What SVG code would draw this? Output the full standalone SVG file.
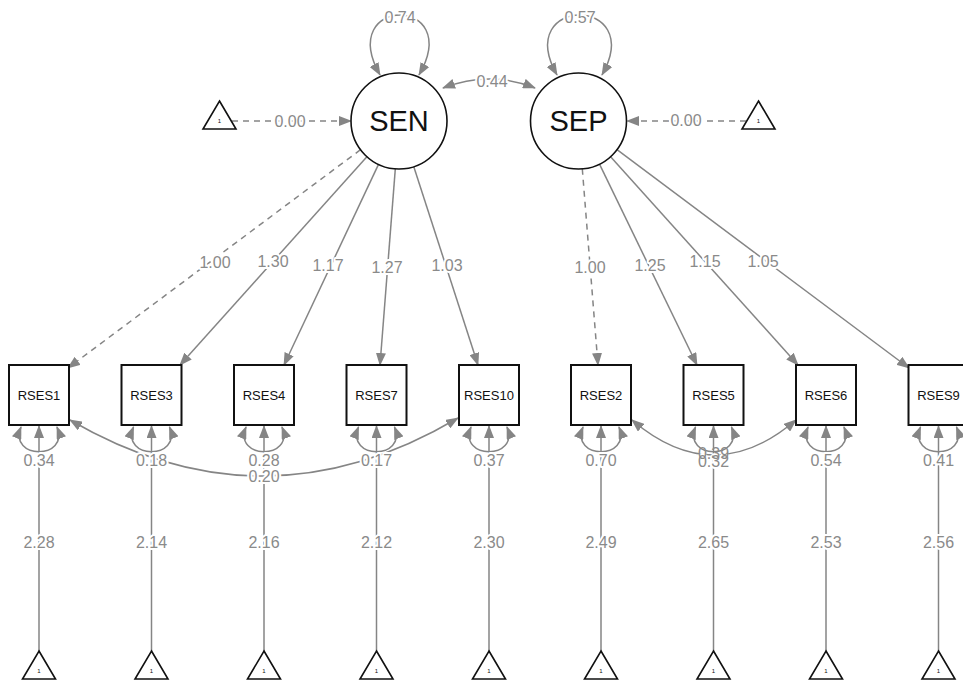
<svg xmlns="http://www.w3.org/2000/svg" width="963" height="680" viewBox="0 0 963 680">
  <style>
    .e { fill: none; stroke: #858585; stroke-width: 1.5; }
    .d { stroke-dasharray: 6 5; }
    .lbl { font-family: "Liberation Sans", Arial, sans-serif; font-size: 16px; fill: #8a8a8a; text-anchor: middle; stroke: #ffffff; stroke-width: 4; stroke-linejoin: round; paint-order: stroke; }
    .bare { stroke: none; }
    .box { fill: #ffffff; stroke: #111111; stroke-width: 2; }
    .lat { fill: #ffffff; stroke: #111111; stroke-width: 1.6; }
    .tri { fill: #ffffff; stroke: #111111; stroke-width: 1.6; }
    .bt { font-family: "Liberation Sans", Arial, sans-serif; font-size: 13px; fill: #111111; text-anchor: middle; }
    .lt { font-family: "Liberation Sans", Arial, sans-serif; font-size: 29px; fill: #111111; text-anchor: middle; }
    .one { font-family: "Liberation Sans", Arial, sans-serif; font-size: 6px; fill: #111111; text-anchor: middle; }
  </style>
  <defs>
    <marker id="ah" markerUnits="userSpaceOnUse" markerWidth="13" markerHeight="10" refX="12" refY="5" orient="auto-start-reverse" viewBox="0 0 13 10">
      <path d="M0,0 L13,5 L0,10 z" fill="#858585"/>
    </marker>
  </defs>

  <rect width="963" height="680" fill="#ffffff"/>

  <!-- connectors -->
  <g id="edges">
    <!-- latent variances and covariance -->
    <path class="e" d="M380,75 C335,-5 465,-5 419,75" marker-start="url(#ah)" marker-end="url(#ah)"/>
    <path class="e" d="M557,75 C512,-5 647,-5 602,75" marker-start="url(#ah)" marker-end="url(#ah)"/>
    <path class="e" d="M443,88 Q490,70 535,88" marker-start="url(#ah)" marker-end="url(#ah)"/>
    <!-- latent means -->
    <path class="e d" d="M232,121 L351,121" marker-end="url(#ah)"/>
    <path class="e d" d="M746,121 L627,121" marker-end="url(#ah)"/>
    <!-- loadings SEN -->
    <path class="e d" d="M360.5,149.7 L68,368" marker-end="url(#ah)"/>
    <path class="e" d="M366.9,156.7 L180,365" marker-end="url(#ah)"/>
    <path class="e" d="M378.5,164.4 L284,365" marker-end="url(#ah)"/>
    <path class="e" d="M395.3,168.9 L380,365" marker-end="url(#ah)"/>
    <path class="e" d="M413.8,166.7 L478,365" marker-end="url(#ah)"/>
    <!-- loadings SEP -->
    <path class="e d" d="M582.3,168.8 L598,365" marker-end="url(#ah)"/>
    <path class="e" d="M599.5,164.2 L697,365" marker-end="url(#ah)"/>
    <path class="e" d="M610.6,156.7 L798,365" marker-end="url(#ah)"/>
    <path class="e" d="M617,149.7 L909,368" marker-end="url(#ah)"/>
    <!-- intercepts -->
    <path class="e" d="M39,651 L39,426" marker-end="url(#ah)"/>
    <path class="e" d="M151.5,651 L151.5,426" marker-end="url(#ah)"/>
    <path class="e" d="M264,651 L264,426" marker-end="url(#ah)"/>
    <path class="e" d="M376.5,651 L376.5,426" marker-end="url(#ah)"/>
    <path class="e" d="M489,651 L489,426" marker-end="url(#ah)"/>
    <path class="e" d="M601,651 L601,426" marker-end="url(#ah)"/>
    <path class="e" d="M713.5,651 L713.5,426" marker-end="url(#ah)"/>
    <path class="e" d="M826,651 L826,426" marker-end="url(#ah)"/>
    <path class="e" d="M938.5,651 L938.5,426" marker-end="url(#ah)"/>
    <!-- residual variances -->
    <path class="e" d="M21,427 C8,460 70,460 57,427" marker-start="url(#ah)" marker-end="url(#ah)"/>
    <path class="e" d="M133.5,427 C120.5,460 182.5,460 169.5,427" marker-start="url(#ah)" marker-end="url(#ah)"/>
    <path class="e" d="M246,427 C233,460 295,460 282,427" marker-start="url(#ah)" marker-end="url(#ah)"/>
    <path class="e" d="M358.5,427 C345.5,460 407.5,460 394.5,427" marker-start="url(#ah)" marker-end="url(#ah)"/>
    <path class="e" d="M471,427 C458,460 520,460 507,427" marker-start="url(#ah)" marker-end="url(#ah)"/>
    <path class="e" d="M583,427 C570,460 632,460 619,427" marker-start="url(#ah)" marker-end="url(#ah)"/>
    <path class="e" d="M695.5,427 C682.5,460 744.5,460 731.5,427" marker-start="url(#ah)" marker-end="url(#ah)"/>
    <path class="e" d="M808,427 C795,460 857,460 844,427" marker-start="url(#ah)" marker-end="url(#ah)"/>
    <path class="e" d="M920.5,427 C907.5,460 969.5,460 956.5,427" marker-start="url(#ah)" marker-end="url(#ah)"/>
    <!-- residual covariances -->
    <path class="e" d="M70,420 Q264,533 458,418" marker-start="url(#ah)" marker-end="url(#ah)"/>
    <path class="e" d="M632,420 Q714,490 796,420" marker-start="url(#ah)" marker-end="url(#ah)"/>
  </g>

  <!-- edge labels -->
  <g id="labels">
    <text class="lbl" x="400" y="23">0.74</text>
    <text class="lbl" x="580" y="23">0.57</text>
    <text class="lbl" x="492" y="87">0.44</text>
    <text class="lbl" x="290" y="127">0.00</text>
    <text class="lbl" x="686" y="126">0.00</text>
    <text class="lbl" x="215" y="268">1.00</text>
    <text class="lbl" x="273" y="267">1.30</text>
    <text class="lbl" x="328" y="271">1.17</text>
    <text class="lbl" x="387" y="273">1.27</text>
    <text class="lbl" x="447" y="271">1.03</text>
    <text class="lbl" x="590" y="273">1.00</text>
    <text class="lbl" x="650" y="271">1.25</text>
    <text class="lbl" x="705" y="267">1.15</text>
    <text class="lbl" x="763" y="267">1.05</text>
    <text class="lbl" x="39" y="466">0.34</text>
    <text class="lbl" x="151.5" y="466">0.18</text>
    <text class="lbl" x="264" y="466">0.28</text>
    <text class="lbl" x="376.5" y="466">0.17</text>
    <text class="lbl" x="489" y="466">0.37</text>
    <text class="lbl" x="601" y="466">0.70</text>
    <text class="lbl" x="713.5" y="467">0.32</text>
    <text class="lbl" x="826" y="466">0.54</text>
    <text class="lbl" x="938.5" y="466">0.41</text>
    <text class="lbl" x="264" y="482">0.20</text>
    <text class="lbl bare" x="713.5" y="459">0.39</text>
    <text class="lbl" x="39" y="548">2.28</text>
    <text class="lbl" x="151.5" y="548">2.14</text>
    <text class="lbl" x="264" y="548">2.16</text>
    <text class="lbl" x="376.5" y="548">2.12</text>
    <text class="lbl" x="489" y="548">2.30</text>
    <text class="lbl" x="601" y="548">2.49</text>
    <text class="lbl" x="713.5" y="548">2.65</text>
    <text class="lbl" x="826" y="548">2.53</text>
    <text class="lbl" x="938.5" y="548">2.56</text>
  </g>

  <!-- latent variables -->
  <g id="SEN">
    <circle class="lat" cx="399" cy="121" r="48"/>
    <text class="lt" x="399" y="131">SEN</text>
  </g>
  <g id="SEP">
    <circle class="lat" cx="578.5" cy="121" r="48"/>
    <text class="lt" x="578.5" y="131">SEP</text>
  </g>

  <!-- constant (mean) triangles for the latents -->
  <g id="one_SEN">
    <polygon class="tri" points="219.5,101 236,129 203,129"/>
    <text class="one" x="219.5" y="123">1</text>
  </g>
  <g id="one_SEP">
    <polygon class="tri" points="758.5,101 775,129 742,129"/>
    <text class="one" x="758.5" y="123">1</text>
  </g>

  <!-- observed indicators -->
  <g id="RSES1"><rect class="box" x="9" y="365" width="60" height="60"/><text class="bt" x="39" y="400">RSES1</text></g>
  <g id="RSES3"><rect class="box" x="121.5" y="365" width="60" height="60"/><text class="bt" x="151.5" y="400">RSES3</text></g>
  <g id="RSES4"><rect class="box" x="234" y="365" width="60" height="60"/><text class="bt" x="264" y="400">RSES4</text></g>
  <g id="RSES7"><rect class="box" x="346.5" y="365" width="60" height="60"/><text class="bt" x="376.5" y="400">RSES7</text></g>
  <g id="RSES10"><rect class="box" x="459" y="365" width="60" height="60"/><text class="bt" x="489" y="400">RSES10</text></g>
  <g id="RSES2"><rect class="box" x="571" y="365" width="60" height="60"/><text class="bt" x="601" y="400">RSES2</text></g>
  <g id="RSES5"><rect class="box" x="683.5" y="365" width="60" height="60"/><text class="bt" x="713.5" y="400">RSES5</text></g>
  <g id="RSES6"><rect class="box" x="796" y="365" width="60" height="60"/><text class="bt" x="826" y="400">RSES6</text></g>
  <g id="RSES9"><rect class="box" x="908.5" y="365" width="60" height="60"/><text class="bt" x="938.5" y="400">RSES9</text></g>

  <!-- intercept triangles -->
  <g id="one_RSES1"><polygon class="tri" points="39,651 55.5,679 22.5,679"/><text class="one" x="39" y="673">1</text></g>
  <g id="one_RSES3"><polygon class="tri" points="151.5,651 168,679 135,679"/><text class="one" x="151.5" y="673">1</text></g>
  <g id="one_RSES4"><polygon class="tri" points="264,651 280.5,679 247.5,679"/><text class="one" x="264" y="673">1</text></g>
  <g id="one_RSES7"><polygon class="tri" points="376.5,651 393,679 360,679"/><text class="one" x="376.5" y="673">1</text></g>
  <g id="one_RSES10"><polygon class="tri" points="489,651 505.5,679 472.5,679"/><text class="one" x="489" y="673">1</text></g>
  <g id="one_RSES2"><polygon class="tri" points="601,651 617.5,679 584.5,679"/><text class="one" x="601" y="673">1</text></g>
  <g id="one_RSES5"><polygon class="tri" points="713.5,651 730,679 697,679"/><text class="one" x="713.5" y="673">1</text></g>
  <g id="one_RSES6"><polygon class="tri" points="826,651 842.5,679 809.5,679"/><text class="one" x="826" y="673">1</text></g>
  <g id="one_RSES9"><polygon class="tri" points="938.5,651 955,679 922,679"/><text class="one" x="938.5" y="673">1</text></g>
</svg>
